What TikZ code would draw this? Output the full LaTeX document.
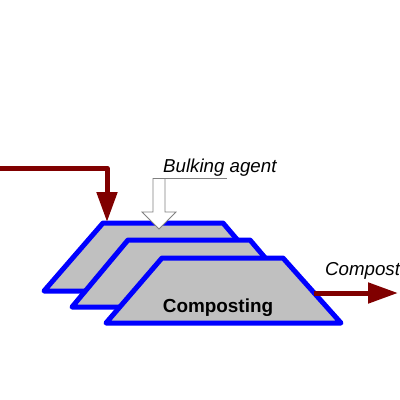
\documentclass[tikz,border=0pt]{standalone}
\usepackage{fontspec}
\setmainfont{Liberation Sans}
\usetikzlibrary{arrows.meta}
\definecolor{flow}{HTML}{800000}
\definecolor{edge}{HTML}{0000FF}
\definecolor{pile}{HTML}{C0C0C0}
\definecolor{hollow}{HTML}{808080}
\begin{document}
\begin{tikzpicture}[x=1pt,y=-1pt,
  pilestyle/.style={draw=edge,fill=pile,line width=5pt,line join=round},
  flowarrow/.style={draw=flow,line width=5pt,line join=round,-{Triangle[length=30pt,width=20pt]}},
  lbl/.style={font=\fontsize{18.7}{22}\selectfont\itshape,inner sep=0pt},
  hollowarrow/.style={draw=hollow,fill=white,line width=0.8pt}]
\useasboundingbox (0,0) rectangle (400,400);
% piles
\path[pilestyle] (103,223) -- (223,223) -- (281,291) -- (44,291) -- cycle;
\path[pilestyle] (128,240) -- (250,240) -- (307,307) -- (72,307) -- cycle;
\path[pilestyle] (162,258) -- (283,258) -- (341,323) -- (106,323) -- cycle;
\node[font=\fontsize{18.9}{22}\selectfont\bfseries,inner sep=0pt,anchor=base] (comp) at (218,312) {Composting};
% feed arrow
\coordinate (feedstart) at (0,168);
\coordinate (feedcorner) at (107,168);
\coordinate (feedtip) at (107,222);
\draw[flowarrow] (feedstart) -- (feedcorner) -- (feedtip);
% compost arrow
\coordinate (outstart) at (314,293);
\coordinate (outtip) at (398,293);
\draw[flowarrow] (outstart) -- (outtip);
\node[lbl,anchor=base west] (compost) at (325,275) {Compost};
% bulking agent
\coordinate (bulktop) at (153,178);
\coordinate (bulkline) at (227,178);
\draw[hollowarrow] (153,178) -- (153,212) -- (142,212) -- (159,229) -- (176,212) -- (165,212) -- (165,178);
\draw[draw=hollow,line width=0.8pt] (bulktop) -- (bulkline);
\node[lbl,anchor=base west] (bulk) at (163,172) {Bulking agent};
\end{tikzpicture}
\end{document}
